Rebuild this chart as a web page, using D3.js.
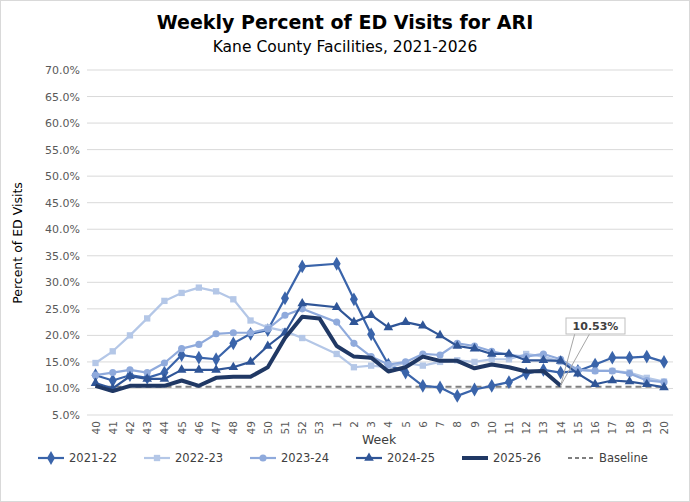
<!DOCTYPE html>
<html><head><meta charset="utf-8">
<script src="https://cdn.jsdelivr.net/npm/d3@7"></script>
<style>body{margin:0;background:#fff;font-family:Verdana,"DejaVu Sans",sans-serif}</style>
</head><body><div id="chart"></div>
<script>
const weeks = ["40","41","42","43","44","45","46","47","48","49","50","51","52","53","1","2","3","4","5","6","7","8","9","10","11","12","13","14","15","16","17","18","19","20"];
const s2122 = [12.5,11.5,12.5,12,13,16.3,15.8,15.5,18.5,20.3,21,27,33,null,33.5,26.8,20.2,14.5,13,10.5,10.2,8.6,9.8,10.5,11.2,12.8,13.5,13,13.3,14.5,15.8,15.8,16,15];
const s2223 = [14.8,17,20,23.2,26.5,28,29,28.3,26.8,22.8,21.5,20.8,19.5,null,16.5,14,14.3,14,14.8,14.3,15,15.3,15,15.5,15.5,16.5,16,15,13.5,13.3,13.3,13,12,11.3];
const s2324 = [12.5,13,13.5,13,14.8,17.5,18.3,20.3,20.5,20.5,21.2,23.8,25,null,22.5,18.5,16,14.5,15,16.5,16.3,18.5,18,17,16.3,16,16.5,15.5,13.5,13.3,13.3,12.8,11.5,11.2];
const s2425 = [11,10,12.3,11.8,11.8,13.5,13.5,13.5,14,15,18,20.5,26,null,25.3,22.5,23.8,21.5,22.5,21.8,20,18,17.5,16.5,16.5,15.3,15.3,15.2,12.8,10.8,11.5,11.3,10.8,10.2];
const s2526 = [10.5,9.5,10.5,10.5,10.5,11.5,10.5,12,12.2,12.2,14,19.5,23.5,23.2,18,16,15.8,13.2,14,16,15.2,15.2,13.8,14.5,14,13.2,13.3,10.53];
const baseline = 10.3;
const yTicks = d3.range(5, 70.1, 5);

const W = 690, H = 502;
const svg = d3.select("#chart").append("svg").attr("width", W).attr("height", H);
svg.append("rect").attr("x",0.5).attr("y",0.5).attr("width",W-1).attr("height",H-1).attr("fill","#fff").attr("stroke","#d9d9d9");

const x = d3.scalePoint().domain(weeks).range([95.5, 664]);
const y = d3.scaleLinear().domain([5, 70]).range([415, 70]);

svg.append("text").attr("x",W/2).attr("y",29).attr("text-anchor","middle")
  .style("font-size","19px").style("font-weight","bold").text("Weekly Percent of ED Visits for ARI");
svg.append("text").attr("x",W/2).attr("y",52).attr("text-anchor","middle")
  .style("font-size","15.5px").text("Kane County Facilities, 2021-2026");

svg.append("g").selectAll("line").data(yTicks).join("line")
  .attr("x1",87).attr("x2",673).attr("y1",d=>y(d)).attr("y2",d=>y(d))
  .attr("stroke","#d9d9d9");
svg.append("g").selectAll("text").data(yTicks).join("text")
  .attr("x",80).attr("y",d=>y(d)+4).attr("text-anchor","end")
  .style("font-size","11px").attr("fill","#595959").text(d=>d.toFixed(1)+"%");
svg.append("g").selectAll("text").data(weeks).join("text")
  .attr("transform",d=>`translate(${x(d)+4},${421}) rotate(-90)`).attr("text-anchor","end")
  .style("font-size","10.5px").attr("fill","#595959").text(d=>d);
svg.append("text").attr("transform","translate(22,243) rotate(-90)").attr("text-anchor","middle")
  .style("font-size","12.5px").text("Percent of ED Visits");
svg.append("text").attr("x",379).attr("y",444).attr("text-anchor","middle")
  .style("font-size","12.5px").attr("fill","#404040").text("Week");

svg.append("line").attr("x1",x("40")).attr("x2",x("20")).attr("y1",y(baseline)).attr("y2",y(baseline))
  .attr("stroke","#7f7f7f").attr("stroke-width",2).attr("stroke-dasharray","6,4");

const series = [
  {name:"2021-22", data:s2122, color:"#3a64aa", w:2.2, shape:d3.symbolDiamond, size:55},
  {name:"2022-23", data:s2223, color:"#b4c7e7", w:2.2, shape:d3.symbolSquare, size:40},
  {name:"2023-24", data:s2324, color:"#8faadc", w:2.2, shape:d3.symbolCircle, size:40},
  {name:"2024-25", data:s2425, color:"#2f5597", w:2.2, shape:d3.symbolTriangle, size:40},
  {name:"2025-26", data:s2526, color:"#203864", w:4, shape:null}
];
const line = d3.line().x(d=>x(d.w)).y(d=>y(d.v));
series.forEach(s=>{
  const pts = s.data.map((v,i)=>({w:weeks[i], v})).filter(d=>d.v!=null);
  svg.append("path").datum(pts).attr("d",line).attr("fill","none")
    .attr("stroke",s.color).attr("stroke-width",s.w).attr("stroke-linejoin","round");
  if (s.shape) svg.append("g").selectAll("path").data(pts).join("path")
    .attr("transform",d=>`translate(${x(d.w)},${y(d.v)})`)
    .attr("d",d3.symbol().type(s.shape).size(s.size)).attr("fill",s.color);
});

// callout for latest value
const lx = x("14"), ly = y(s2526[s2526.length-1]);
svg.append("line").attr("x1",lx).attr("y1",ly).attr("x2",575).attr("y2",333).attr("stroke","#a6a6a6");
svg.append("line").attr("x1",lx).attr("y1",ly).attr("x2",590).attr("y2",333).attr("stroke","#a6a6a6");
svg.append("rect").attr("x",566).attr("y",318).attr("width",59).attr("height",16).attr("fill","#fff").attr("stroke","#bfbfbf");
svg.append("text").attr("x",595.5).attr("y",330).attr("text-anchor","middle")
  .style("font-size","11px").style("font-weight","bold").attr("fill","#404040").text("10.53%");

// legend
const leg = [...series.map(s=>({name:s.name,color:s.color,w:s.w,shape:s.shape,size:s.size})),
  {name:"Baseline",color:"#7f7f7f",w:2,dash:"4,3"}];
const lxs = [38,144,250,356,462,568];
leg.forEach((l,i)=>{
  const g = svg.append("g").attr("transform",`translate(${lxs[i]},458)`);
  g.append("line").attr("x1",0).attr("x2",26).attr("stroke",l.color).attr("stroke-width",l.w).attr("stroke-dasharray",l.dash||null);
  if (l.shape) g.append("path").attr("transform","translate(13,0)").attr("d",d3.symbol().type(l.shape).size(l.size)).attr("fill",l.color);
  g.append("text").attr("x",31).attr("y",4).style("font-size","11.5px").attr("fill","#404040").text(l.name);
});
</script></body></html>
